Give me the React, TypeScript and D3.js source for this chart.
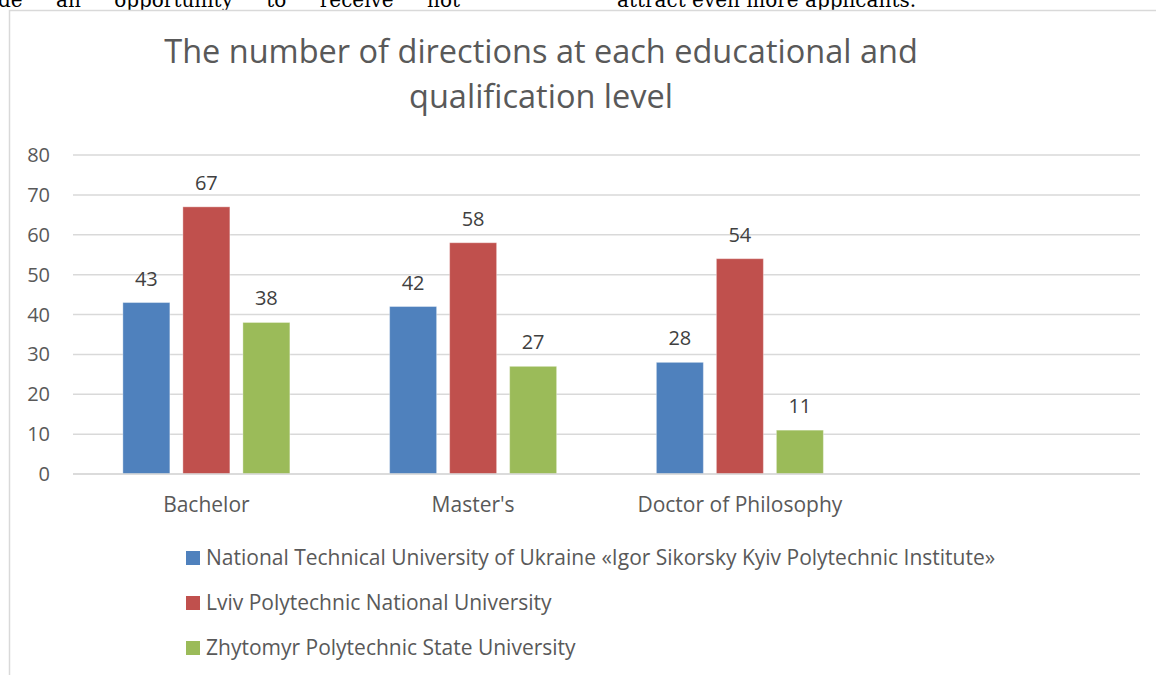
import * as d3 from "d3";

const categories = ["Bachelor", "Master's", "Doctor of Philosophy", ""];
const seriesNames = [
  "National Technical University of Ukraine «Igor Sikorsky Kyiv Polytechnic Institute»",
  "Lviv Polytechnic National University",
  "Zhytomyr Polytechnic State University",
];
const kpiValues = [43, 42, 28];
const lvivValues = [67, 58, 54];
const zhytomyrValues = [38, 27, 11];
const yTicks = [0, 10, 20, 30, 40, 50, 60, 70, 80];

const colors = ["#4F81BD", "#C0504D", "#9BBB59"];
const series = [kpiValues, lvivValues, zhytomyrValues];

const W = 1156;
const H = 675;
const margin = { top: 155, right: 16, bottom: 201, left: 73 };
const font = "'Open Sans', Lato, sans-serif";
const textColor = "#595959";

export default function App() {
  const x0 = d3
    .scaleBand<string>()
    .domain(categories)
    .range([margin.left, W - margin.right]);
  const x1 = d3
    .scaleBand<number>()
    .domain([0, 1, 2])
    .range([0, 167])
    .paddingInner(0.217);
  const y = d3
    .scaleLinear()
    .domain([0, 80])
    .range([H - margin.bottom, margin.top]);

  const groupOffset = (x0.bandwidth() - 167) / 2;

  return (
    <svg
      width={W}
      height={H}
      style={{ position: "absolute", left: 0, top: 0, background: "#fff" }}
    >
      {/* page text cut off above the chart */}
      <g fontFamily="'DejaVu Serif', 'Liberation Serif', serif" fontSize={20} fill="#000">
        <text x={-2} y={7} wordSpacing={27}>
          de an opportunity to receive not
        </text>
        <text x={617} y={7}>
          attract even more applicants.
        </text>
      </g>

      {/* chart frame */}
      <path d={`M9.5,${H} V10.5 H${W}`} fill="none" stroke="#d9d9d9" strokeWidth={1.5} />

      {/* title */}
      <g fontFamily={font} fontSize={32.5} fill={textColor} textAnchor="middle">
        <text x={541} y={63}>The number of directions at each educational and</text>
        <text x={541} y={108}>qualification level</text>
      </g>

      {/* gridlines */}
      {yTicks.map((t) => (
        <line
          key={t}
          x1={margin.left}
          x2={W - margin.right}
          y1={y(t)}
          y2={y(t)}
          stroke="#d9d9d9"
          strokeWidth={1.5}
        />
      ))}

      {/* y labels */}
      <g fontFamily={font} fontSize={20} fill={textColor} textAnchor="end">
        {yTicks.map((t) => (
          <text key={t} x={50} y={y(t)} dy="0.35em">
            {t}
          </text>
        ))}
      </g>

      {/* bars */}
      {series.map((vals, si) =>
        vals.map((v, ci) => {
          const bx = (x0(categories[ci]) ?? 0) + groupOffset + (x1(si) ?? 0);
          return (
            <g key={`${si}-${ci}`}>
              <rect
                x={bx}
                y={y(v)}
                width={x1.bandwidth()}
                height={y(0) - y(v)}
                fill={colors[si]}
                stroke="#ffffff"
                strokeOpacity={0.35}
                strokeWidth={1}
              />
              <text
                x={bx + x1.bandwidth() / 2}
                y={y(v) - 24}
                dy="0.35em"
                textAnchor="middle"
                fontFamily={font}
                fontSize={20}
                fill="#404040"
              >
                {v}
              </text>
            </g>
          );
        })
      )}

      {/* x axis line */}
      <line
        x1={margin.left}
        x2={W - margin.right}
        y1={y(0)}
        y2={y(0)}
        stroke="#d9d9d9"
        strokeWidth={1.5}
      />

      {/* category labels */}
      <g fontFamily={font} fontSize={21} fill={textColor} textAnchor="middle">
        {categories.map((c) => (
          <text key={c} x={(x0(c) ?? 0) + x0.bandwidth() / 2} y={505} dy="0.35em">
            {c}
          </text>
        ))}
      </g>

      {/* legend */}
      <g fontFamily={font} fontSize={21} fill={textColor}>
        {seriesNames.map((name, i) => (
          <g key={name} transform={`translate(186,${558 + i * 45})`}>
            <rect x={0} y={-7} width={14} height={14} fill={colors[i]} />
            <text x={20} y={0} dy="0.35em">
              {name}
            </text>
          </g>
        ))}
      </g>
    </svg>
  );
}
